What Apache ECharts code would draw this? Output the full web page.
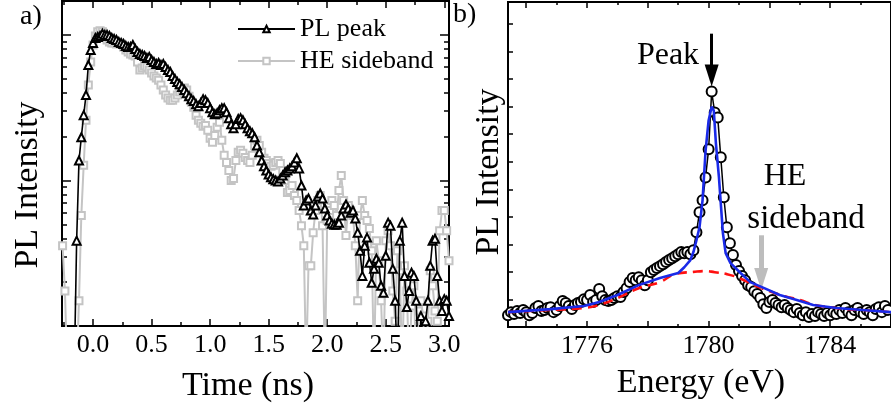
<!DOCTYPE html>
<html><head><meta charset="utf-8">
<script src="https://cdn.jsdelivr.net/npm/echarts@6/dist/echarts.min.js"></script>
<style>html,body{margin:0;padding:0;background:#fff}#c{width:891px;height:411px}</style>
</head><body><div id="c"></div>
<script>
// ---------- Panel a) time-resolved PL (log intensity) ----------
const T0 = -0.26, DT = 0.02; // sampling grid of the decay traces (ns)
const plPeak = [
0.5,0.5,0.5,0.5,0.5,0.5,3.86,13.7,19.8,28.1,
38.6,62.1,78.8,88.1,95.3,96.8,98.4,102,100,100,
98.4,95.3,93.8,92.4,89.5,88.1,86.7,84.0,82.7,82.7,
85.3,80.0,76.3,73.9,72.8,71.7,69.4,70.6,67.3,65.2,
63.1,64.1,62.1,63.1,60.1,57.4,55.6,52.1,49.7,47.4,
45.9,43.8,41.8,39.8,37.9,36.2,35.1,33.4,32.4,34.0,
36.2,35.6,34.0,31.4,29.4,28.5,29.0,30.4,31.4,31.4,
29.4,26.8,24.3,22.8,24.3,26.4,26.8,25.9,24.3,22.8,
21.8,21.1,19.8,17.4,15.6,13.7,12.5,11.7,11.0,10.5,
10.2,10.0,9.84,10.3,10.8,11.4,11.7,12.1,12.5,13.3,
14.2,12.1,9.24,6.72,7.28,7.52,6.21,5.83,6.72,7.76,
8.13,7.52,6.41,5.74,5.30,5.05,4.97,4.97,5.13,5.74,
6.41,6.83,6.41,6.01,6.21,5.47,4.38,3.29,2.21,3.56,
4.05,2.72,1.98,2.47,2.90,2.72,1.89,1.69,3.04,5.13,
4.89,2.47,1.49,0.5,3.86,5.13,2.21,1.35,1.74,2.32,
2.21,1.49,0.5,1.17,0.5,1.08,1.49,2.59,3.86,3.98,
2.21,1.49,1.27,1.53,1.49,1.17];
const heSideband = [
3.56,1.74,0.5,0.5,0.5,0.5,0.5,1.49,5.74,12.7,
25.9,45.2,65.2,85.3,98.4,105,107,105,98.4,92.4,
89.5,88.1,88.1,86.7,88.1,86.7,82.7,78.8,76.3,73.9,
72.8,71.7,65.2,57.4,59.2,61.1,60.1,57.4,54.7,52.1,
50.5,48.9,45.2,41.8,38.6,36.8,35.6,35.6,36.8,38.6,
40.5,41.8,43.1,41.8,37.9,34.5,31.9,28.1,25.9,24.7,
23.6,23.9,22.1,19.5,18.3,20.4,23.2,25.1,18.9,14.9,
13.3,11.7,10.0,10.3,13.7,15.6,16.1,15.4,14.4,13.7,
13.3,14.9,17.4,18.9,17.4,15.6,14.2,13.7,13.1,12.5,
12.7,13.3,13.7,13.1,11.7,10.0,8.26,8.53,9.24,7.88,
7.28,6.21,4.89,3.56,0.5,2.59,2.59,4.38,6.21,7.28,
7.88,4.89,0.5,5.30,6.21,7.28,6.72,5.74,8.53,10.8,
7.28,4.18,6.72,6.21,5.74,3.56,1.49,5.74,7.28,5.74,
5.30,4.67,3.29,0.5,3.86,2.81,1.49,0.5,3.86,4.52,
3.56,1.74,1.08,3.29,2.40,0.5,2.59,1.74,0.5,1.37,
1.89,0.5,1.27,1.49,1.17,0.5,1.08,2.40,1.89,1.27,
1.08,4.52,6.21,6.21,4.52,2.81];
const timeTickLabels = [0,0.5,1.0,1.5,2.0,2.5,3.0];
const timeMinorTicks = [-0.25,0.25,0.75,1.25,1.75,2.25,2.75];
const logMajorTicks = [1,10,100];
const logMinorTicks = [2,3,4,5,6,7,8,9,20,30,40,50,60,70,80,90];

// ---------- Panel b) PL spectrum ----------
const E0 = 1773.4, DE = 0.1; // spectral sampling grid (eV as labelled)
const spectrum = [
0.43,0.54,0.47,0.58,0.51,0.62,0.54,0.43,0.51,0.69,
0.76,0.58,0.62,0.69,0.72,0.54,0.62,0.76,0.94,0.87,
0.76,0.65,0.80,0.87,0.91,1.01,0.98,1.16,0.91,0.98,
1.38,1.12,0.98,0.94,0.98,1.05,1.12,1.09,1.27,1.41,
1.63,1.78,1.70,1.81,1.70,1.52,1.70,1.99,2.07,2.14,
2.21,2.28,2.36,2.43,2.50,2.57,2.64,2.72,2.68,2.72,
2.64,2.79,3.44,4.17,4.60,5.43,6.45,8.55,7.79,7.61,
6.16,4.71,3.62,3.04,2.61,2.25,2.03,1.85,1.70,1.52,
1.45,1.30,1.20,1.05,0.83,0.69,0.91,0.98,0.87,0.80,
0.72,0.80,0.69,0.62,0.54,0.65,0.51,0.43,0.54,0.36,
0.47,0.40,0.54,0.47,0.40,0.51,0.43,0.54,0.47,0.62,
0.51,0.69,0.54,0.43,0.62,0.69,0.54,0.47,0.62,0.54,
0.43,0.65,0.72,0.54,0.76,0.62];
const fitEnergy = [1773.4,1774.8,1775.9,1776.4,1777.0,1777.7,1778.4,1779.0,1779.2,1779.4,1779.5,1779.6,1779.7,1779.8,1779.9,1780.0,1780.1,1780.17,1780.24,1780.34,1780.4,1780.47,1780.56,1780.72,1781.05,1781.37,1781.83,1782.34,1782.9,1783.44,1784.2,1785.06,1786.0];
const fitTotal = [0.54,0.65,0.76,0.91,1.16,1.52,1.78,1.96,2.17,2.43,2.72,3.15,3.62,4.6,6.4,7.5,8.0,7.86,6.67,5.43,4.49,3.41,2.68,2.32,1.96,1.63,1.41,1.16,0.98,0.80,0.69,0.62,0.54];
const broadEnergy = [1773.4,1774.8,1775.9,1776.4,1777.0,1777.7,1778.4,1778.9,1779.5,1779.9,1780.2,1780.6,1781.0,1781.5,1782.0,1782.5,1783.0,1783.5,1784.0,1784.5,1785.0,1786.0];
const broadFit = [0.54,0.62,0.69,0.80,1.05,1.41,1.63,1.92,2.00,2.03,1.99,1.92,1.78,1.52,1.30,1.12,0.98,0.80,0.72,0.65,0.62,0.54];
const energyTickLabels = [1776,1780,1784];
const energyMajorTicks = [1774,1776,1778,1780,1782,1784,1786];
const energyMinorTicks = [1775,1777,1779,1781,1783,1785];
const intensityTicks = [1,2,3,4,5,6,7,8,9,10,11];
const peakArrow = {energy:1780.1, from:10.65, to:9.13};
const sidebandArrow = {energy:1781.73, from:3.33, to:1.74};

// ---------- chart ----------
const SERIF = '"Liberation Serif","Times New Roman",serif';
const BLACK = '#000';
const axLine = {show:true, onZero:false, lineStyle:{color:BLACK, width:2}};
function xAxisDef(grid, pos, min, max, ticks, len, labels) {
  return {
    type:'value', gridIndex:grid, position:pos, min:min, max:max,
    axisLine:axLine,
    axisTick:{show:true, inside:true, length:len, customValues:ticks, lineStyle:{color:BLACK, width:1.5}},
    axisLabel: labels ? {show:true, customValues:labels.values, formatter:labels.fmt, margin:6,
      fontFamily:SERIF, fontSize:26, color:BLACK} : {show:false},
    splitLine:{show:false}
  };
}
function yAxisDef(grid, pos, type, min, max, ticks, len) {
  return {
    type:type, gridIndex:grid, position:pos, min:min, max:max, logBase:10,
    axisLine:axLine,
    axisTick:{show:true, inside:true, length:len, customValues:ticks, lineStyle:{color:BLACK, width:1.5}},
    axisLabel:{show:false}, splitLine:{show:false}
  };
}
const timeLabels = {values:timeTickLabels, fmt:v=>Number(v).toFixed(1)};
const energyLabels = {values:energyTickLabels, fmt:v=>String(Math.round(v))};

const option = {
  animation:false,
  backgroundColor:'#fff',
  grid:[
    {left:62, top:1, width:387, height:325, show:true, borderColor:BLACK, borderWidth:2, backgroundColor:'#fff'},
    {left:508, top:2, width:388, height:325, show:true, borderColor:BLACK, borderWidth:2, backgroundColor:'#fff'}
  ],
  xAxis:[
    xAxisDef(0,'bottom',-0.265,3.04,timeTickLabels,7,timeLabels),
    xAxisDef(0,'bottom',-0.265,3.04,timeMinorTicks,4,null),
    xAxisDef(0,'top',-0.265,3.04,timeTickLabels,7,null),
    xAxisDef(0,'top',-0.265,3.04,timeMinorTicks,4,null),
    xAxisDef(1,'bottom',1773.4,1786,energyMajorTicks,6,energyLabels),
    xAxisDef(1,'bottom',1773.4,1786,energyMinorTicks,3,null),
    xAxisDef(1,'top',1773.4,1786,energyMajorTicks,6,null),
    xAxisDef(1,'top',1773.4,1786,energyMinorTicks,3,null)
  ],
  yAxis:[
    yAxisDef(0,'left','log',1,171,logMajorTicks,9),
    yAxisDef(0,'left','log',1,171,logMinorTicks,5),
    yAxisDef(0,'right','log',1,171,logMajorTicks,9),
    yAxisDef(0,'right','log',1,171,logMinorTicks,5),
    yAxisDef(1,'left','value',0,11.8,intensityTicks,5)
  ],
  legend:{
    data:['PL peak','HE sideband'], orient:'vertical', left:232, top:11,
    itemWidth:57, itemHeight:8, itemGap:6, selectedMode:false,
    textStyle:{fontFamily:SERIF, fontSize:26, color:BLACK, lineHeight:26}
  },
  series:[
    {
      type:'line', name:'HE sideband', xAxisIndex:0, yAxisIndex:0, z:2,
      data: heSideband.map((v,i)=>[+(T0+i*DT).toFixed(2), v]),
      symbol:'emptyRect', symbolSize:7, showAllSymbol:true, color:'#c4c4c4',
      lineStyle:{color:'#c4c4c4', width:2}, itemStyle:{color:'#c4c4c4', borderWidth:1.3},
      clip:true, silent:true
    },
    {
      type:'line', name:'PL peak', xAxisIndex:0, yAxisIndex:0, z:3,
      data: plPeak.map((v,i)=>[+(T0+i*DT).toFixed(2), v]),
      symbol:'emptyTriangle', symbolSize:8, showAllSymbol:true, color:BLACK,
      lineStyle:{color:BLACK, width:1.6}, itemStyle:{color:BLACK, borderWidth:1.3},
      clip:true, silent:true
    },
    {
      type:'line', name:'data', xAxisIndex:4, yAxisIndex:4, z:2,
      data: spectrum.map((v,i)=>[+(E0+i*DE).toFixed(2), v]),
      symbol:'emptyCircle', symbolSize:10, showAllSymbol:true, color:BLACK,
      lineStyle:{color:BLACK, width:1.5}, itemStyle:{color:BLACK, borderWidth:1.6},
      clip:true, silent:true
    },
    {
      type:'line', name:'broad', xAxisIndex:4, yAxisIndex:4, z:4,
      data: broadEnergy.map((e,i)=>[e, broadFit[i]]),
      showSymbol:false, smooth:true, color:'#ff1010',
      lineStyle:{color:'#ff1010', width:2.6, type:[10,6]}, clip:true, silent:true
    },
    {
      type:'line', name:'fit', xAxisIndex:4, yAxisIndex:4, z:5,
      data: fitEnergy.map((e,i)=>[e, fitTotal[i]]),
      showSymbol:false, smooth:false, color:'#1a2ae8',
      lineStyle:{color:'#1a2ae8', width:2.6}, clip:true, silent:true,
      markLine:{
        silent:true, symbol:['none','triangle'], symbolSize:[14,22], label:{show:false},
        emphasis:{disabled:true}, animation:false,
        data:[
          [{coord:[peakArrow.energy, peakArrow.from], lineStyle:{color:BLACK, width:3, type:'solid'}},
           {coord:[peakArrow.energy, peakArrow.to]}],
          [{coord:[sidebandArrow.energy, sidebandArrow.from], lineStyle:{color:'#bdbdbd', width:5, type:'solid'}},
           {coord:[sidebandArrow.energy, sidebandArrow.to]}]
        ]
      }
    }
  ],
  graphic:[
    {type:'text', x:20, y:17, style:{text:'a)', font:'28px '+SERIF, fill:BLACK, align:'left', verticalAlign:'middle'}},
    {type:'text', x:453, y:15, style:{text:'b)', font:'28px '+SERIF, fill:BLACK, align:'left', verticalAlign:'middle'}},
    {type:'text', x:28, y:185, rotation:Math.PI/2, style:{text:'PL Intensity', font:'34px '+SERIF, fill:BLACK, align:'center', verticalAlign:'middle'}},
    {type:'text', x:489, y:172, rotation:Math.PI/2, style:{text:'PL Intensity', font:'34px '+SERIF, fill:BLACK, align:'center', verticalAlign:'middle'}},
    {type:'text', x:248, y:386, style:{text:'Time (ns)', font:'34px '+SERIF, fill:BLACK, align:'center', verticalAlign:'middle'}},
    {type:'text', x:701, y:383, style:{text:'Energy (eV)', font:'34px '+SERIF, fill:BLACK, align:'center', verticalAlign:'middle'}},
    {type:'text', x:668, y:56, style:{text:'Peak', font:'32px '+SERIF, fill:BLACK, align:'center', verticalAlign:'middle'}},
    {type:'text', x:785, y:177, style:{text:'HE', font:'32px '+SERIF, fill:BLACK, align:'center', verticalAlign:'middle'}},
    {type:'text', x:806, y:219, style:{text:'sideband', font:'33px '+SERIF, fill:BLACK, align:'center', verticalAlign:'middle'}}
  ]
};
const chart = echarts.init(document.getElementById('c'), null, {renderer:'canvas', width:891, height:411});
chart.setOption(option);
</script>
</body></html>
